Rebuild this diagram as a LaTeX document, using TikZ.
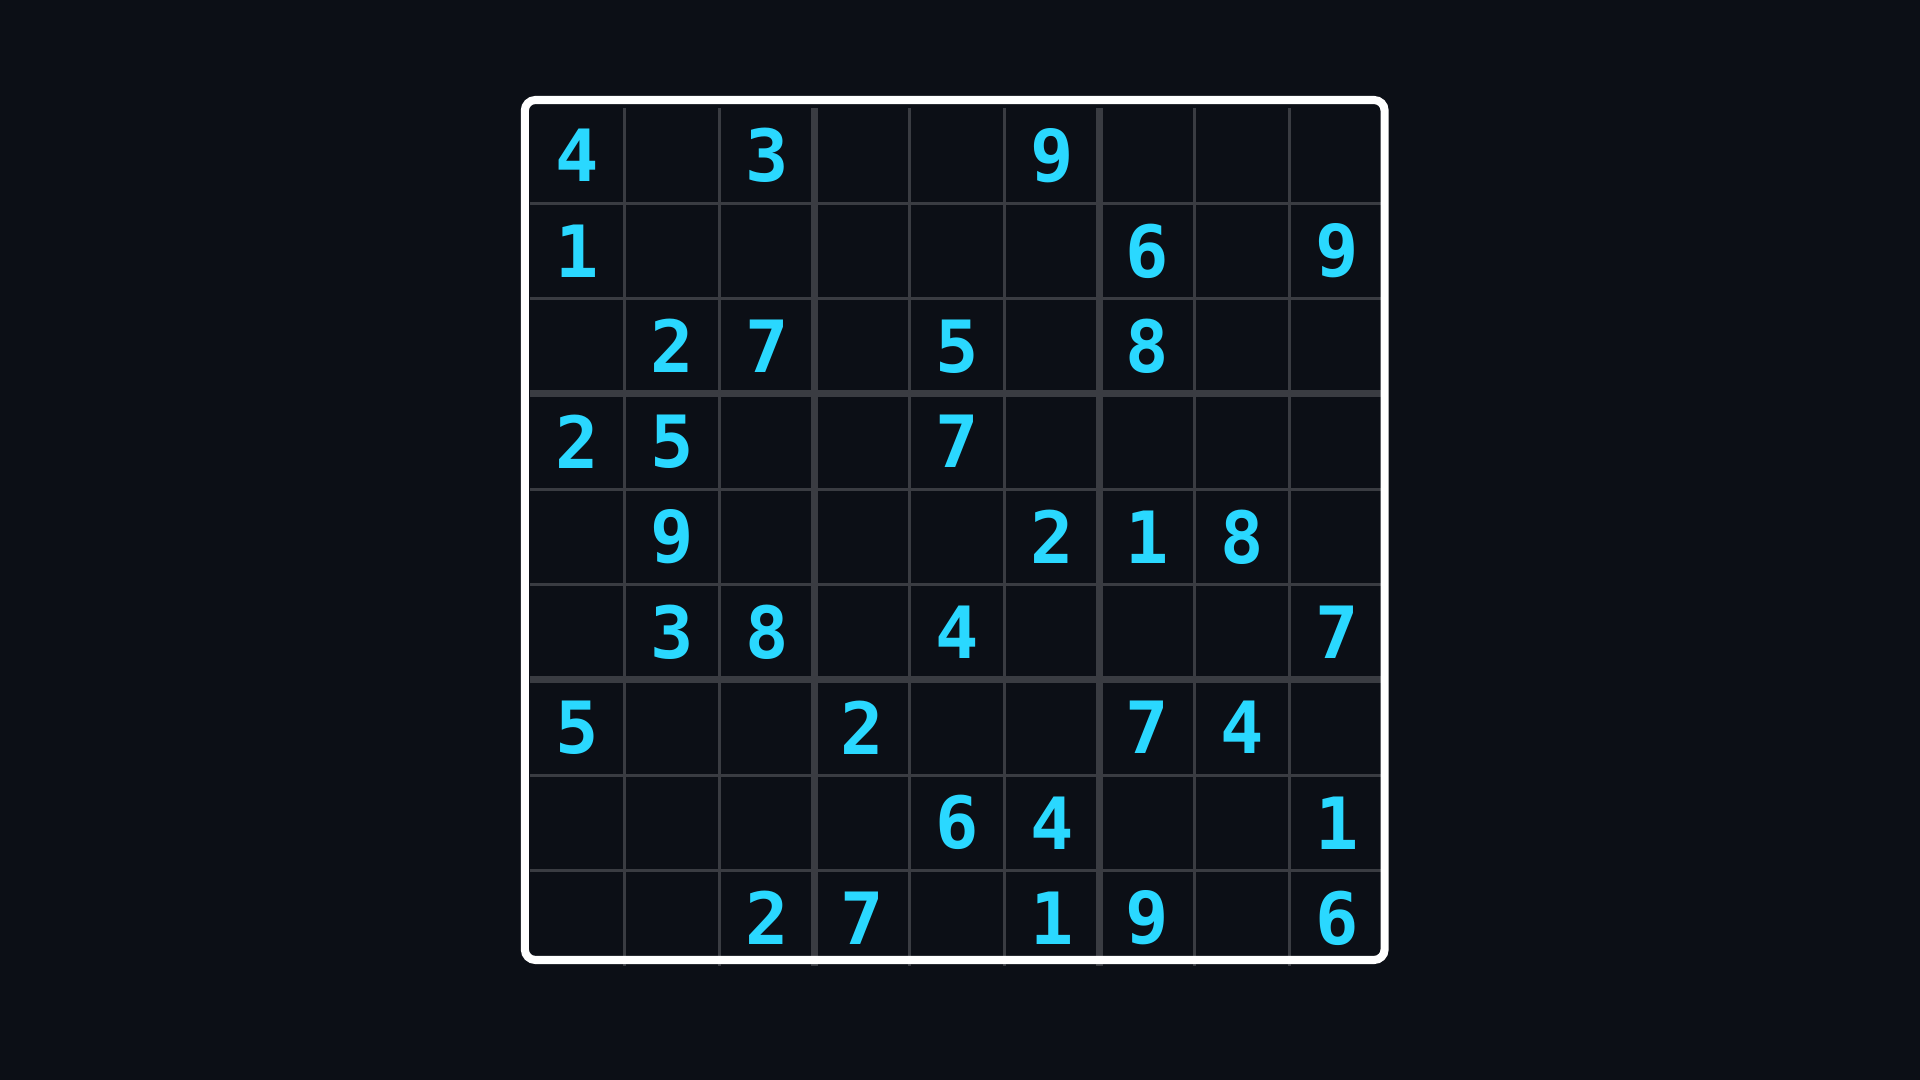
\documentclass[tikz,border=0pt]{standalone}
\usepackage{fontspec}
\setmainfont{DejaVu Sans}
\newfontfamily\givenfont{DejaVu Sans Mono}

\definecolor{boardbg}{HTML}{0C0F16}
\definecolor{gridgray}{HTML}{3A3C42}
\definecolor{digitcyan}{HTML}{2AD8FF}

\tikzset{
    given/.style={digitcyan, font=\givenfont\bfseries\fontsize{20.5}{22}\selectfont, inner sep=0pt},
    cellrule/.style={gridgray, line width=0.85pt},
    boxrule/.style={gridgray, line width=2pt},
}

\begin{document}
\begin{tikzpicture}
    % Background
    \fill[boardbg] (0,0) rectangle (19.2,-10.8);

    \begin{scope}[shift={(5.296,-1.08)}, x=0.95cm, y=-0.953cm]
    % Thin cell lines - columns
    \draw[cellrule] (1,0) -- (1,9);
    \draw[cellrule] (2,0) -- (2,9);
    \draw[cellrule] (4,0) -- (4,9);
    \draw[cellrule] (5,0) -- (5,9);
    \draw[cellrule] (7,0) -- (7,9);
    \draw[cellrule] (8,0) -- (8,9);

    % Thin cell lines - rows
    \draw[cellrule] (0,1) -- (9,1);
    \draw[cellrule] (0,2) -- (9,2);
    \draw[cellrule] (0,4) -- (9,4);
    \draw[cellrule] (0,5) -- (9,5);
    \draw[cellrule] (0,7) -- (9,7);
    \draw[cellrule] (0,8) -- (9,8);

    % Box lines
    \draw[boxrule] (3,0) -- (3,9);
    \draw[boxrule] (6,0) -- (6,9);
    \draw[boxrule] (0,3) -- (9,3);
    \draw[boxrule] (0,6) -- (9,6);

    % Outer frame
    \draw[white, line width=2.3pt, rounded corners=3pt] (-0.05,-0.084) rectangle (9.0,8.94);

    % Givens - row 1
    \node[given] (r1c1) at (0.5,0.5) {4};
    \node[given] (r1c3) at (2.5,0.5) {3};
    \node[given] (r1c6) at (5.5,0.5) {9};

    % Givens - row 2
    \node[given] (r2c1) at (0.5,1.5) {1};
    \node[given] (r2c7) at (6.5,1.5) {6};
    \node[given] (r2c9) at (8.5,1.5) {9};

    % Givens - row 3
    \node[given] (r3c2) at (1.5,2.5) {2};
    \node[given] (r3c3) at (2.5,2.5) {7};
    \node[given] (r3c5) at (4.5,2.5) {5};
    \node[given] (r3c7) at (6.5,2.5) {8};

    % Givens - row 4
    \node[given] (r4c1) at (0.5,3.5) {2};
    \node[given] (r4c2) at (1.5,3.5) {5};
    \node[given] (r4c5) at (4.5,3.5) {7};

    % Givens - row 5
    \node[given] (r5c2) at (1.5,4.5) {9};
    \node[given] (r5c6) at (5.5,4.5) {2};
    \node[given] (r5c7) at (6.5,4.5) {1};
    \node[given] (r5c8) at (7.5,4.5) {8};

    % Givens - row 6
    \node[given] (r6c2) at (1.5,5.5) {3};
    \node[given] (r6c3) at (2.5,5.5) {8};
    \node[given] (r6c5) at (4.5,5.5) {4};
    \node[given] (r6c9) at (8.5,5.5) {7};

    % Givens - row 7
    \node[given] (r7c1) at (0.5,6.5) {5};
    \node[given] (r7c4) at (3.5,6.5) {2};
    \node[given] (r7c7) at (6.5,6.5) {7};
    \node[given] (r7c8) at (7.5,6.5) {4};

    % Givens - row 8
    \node[given] (r8c5) at (4.5,7.5) {6};
    \node[given] (r8c6) at (5.5,7.5) {4};
    \node[given] (r8c9) at (8.5,7.5) {1};

    % Givens - row 9
    \node[given] (r9c3) at (2.5,8.5) {2};
    \node[given] (r9c4) at (3.5,8.5) {7};
    \node[given] (r9c6) at (5.5,8.5) {1};
    \node[given] (r9c7) at (6.5,8.5) {9};
    \node[given] (r9c9) at (8.5,8.5) {6};
    \end{scope}
\end{tikzpicture}
\end{document}
